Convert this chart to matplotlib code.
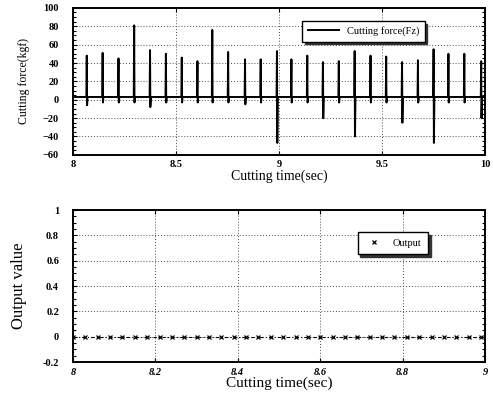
import matplotlib
matplotlib.use('Agg')
import matplotlib.pyplot as plt
from matplotlib.ticker import AutoMinorLocator

# --- data ---
# spikes of cutting force Fz (kgf)
spike_times = [8.067, 8.144, 8.221, 8.297, 8.374, 8.451, 8.528, 8.604, 8.676,
               8.753, 8.835, 8.911, 8.990, 9.060, 9.137, 9.213, 9.290, 9.367,
               9.444, 9.520, 9.597, 9.674, 9.750, 9.822, 9.899, 9.981]
spike_peaks = [48, 51, 45, 81, 54, 50, 46, 42, 76, 52, 44, 44, 53, 44, 48, 41,
               42, 53, 48, 47, 41, 43, 55, 50, 50, 42]
spike_dips = [-6, -3, -3, -3, -8, -3, -3, -3, -3, -3, -5, -3, -47, -3, -3, -20,
              -3, -40, -3, -3, -25, -3, -47, -3, -3, -20]
baseline = 3.0

# output of the detector (all zero)
output_times = [8.00, 8.03, 8.06, 8.09, 8.12, 8.15, 8.18, 8.21, 8.24, 8.27,
                8.30, 8.33, 8.36, 8.39, 8.42, 8.45, 8.48, 8.51, 8.54, 8.57,
                8.60, 8.63, 8.66, 8.69, 8.72, 8.75, 8.78, 8.81, 8.84, 8.87,
                8.90, 8.93, 8.96, 8.99]
output_values = [0, 0, 0, 0, 0, 0, 0, 0, 0, 0, 0, 0, 0, 0, 0, 0, 0,
                 0, 0, 0, 0, 0, 0, 0, 0, 0, 0, 0, 0, 0, 0, 0, 0, 0]

top_xticks = [8, 8.5, 9, 9.5, 10]
top_xlabels = ['8', '8.5', '9', '9.5', '10']
top_yticks = [-60, -40, -20, 0, 20, 40, 60, 80, 100]
bot_xticks = [8, 8.2, 8.4, 8.6, 8.8, 9]
bot_xlabels = ['8', '8.2', '8.4', '8.6', '8.8', '9']
bot_yticks = [-0.2, 0, 0.2, 0.4, 0.6, 0.8, 1]
bot_ylabels = ['-0.2', '0', '0.2', '0.4', '0.6', '0.8', '1']

plt.rcParams['font.family'] = ['Liberation Serif', 'DejaVu Serif']

# build the force trace: flat baseline with a sharp spike at every cut
fx = [8.0]
fy = [baseline]
for t, p, d in zip(spike_times, spike_peaks, spike_dips):
    fx += [t - 0.002, t, t + 0.0015, t + 0.004]
    fy += [baseline, p, d, baseline]
fx.append(10.0)
fy.append(baseline)

fig = plt.figure(figsize=(4.93, 3.95), dpi=100)
ax1 = fig.add_axes([0.148, 0.608, 0.836, 0.372])
ax2 = fig.add_axes([0.148, 0.0835, 0.836, 0.3845])


def style_axes(ax):
    for s in ax.spines.values():
        s.set_linewidth(1.4)
    ax.grid(True, linestyle=(0, (1, 2)), color='0.3', linewidth=0.7)
    ax.tick_params(which='both', direction='in', top=True, right=True,
                   labelsize=7.5, width=0.8)
    ax.tick_params(which='major', length=3)
    ax.tick_params(which='minor', length=2)
    ax.tick_params(axis='y', pad=10)
    ax.tick_params(axis='x', pad=4)
    ax.yaxis.set_minor_locator(AutoMinorLocator(4))
    for lab in ax.get_xticklabels() + ax.get_yticklabels():
        lab.set_fontweight('bold')


# top: cutting force
ax1.plot(fx, fy, color='black', linewidth=1.4, label='Cutting force(Fz)')
ax1.set_xlim(8, 10)
ax1.set_ylim(-60, 100)
ax1.set_xticks(top_xticks)
ax1.set_xticklabels(top_xlabels)
ax1.set_yticks(top_yticks)
style_axes(ax1)
ax1.set_xlabel('Cutting time(sec)', fontsize=10, labelpad=0)
ax1.set_ylabel('Cutting force(kgf)', fontsize=8.5, labelpad=9)
leg1 = ax1.legend(loc='upper right', bbox_to_anchor=(0.866, 0.945),
                  fontsize=7.5, fancybox=False, edgecolor='black',
                  framealpha=1, handlelength=3, borderpad=0.5,
                  shadow={'color': '0.2', 'alpha': 1})
leg1.get_frame().set_linewidth(1.0)

# bottom: output value
ax2.plot(output_times, output_values, color='black', linewidth=0.8,
         linestyle=(0, (3, 2, 1, 2)))
ax2.plot(output_times, output_values, 'x', color='black', markersize=3,
         markeredgewidth=0.9, label='Output')
ax2.set_xlim(8, 9)
ax2.set_ylim(-0.2, 1)
ax2.set_xticks(bot_xticks)
ax2.set_xticklabels(bot_xlabels)
ax2.set_yticks(bot_yticks)
ax2.set_yticklabels(bot_ylabels)
style_axes(ax2)
for lab in ax2.get_xticklabels():
    lab.set_fontstyle('italic')
ax2.set_xlabel('Cutting time(sec)', fontsize=11, labelpad=0)
ax2.set_ylabel('Output value', fontsize=12, labelpad=11)
leg2 = ax2.legend(loc='upper right', bbox_to_anchor=(0.874, 0.89),
                  fontsize=7.5, fancybox=False, edgecolor='black',
                  framealpha=1, handlelength=2, borderpad=0.6, numpoints=1,
                  shadow={'color': '0.2', 'alpha': 1})
leg2.get_frame().set_linewidth(1.0)

fig.savefig('out.png', dpi=100)
